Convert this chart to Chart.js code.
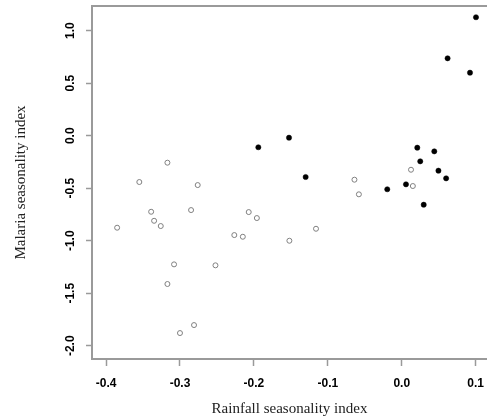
<!DOCTYPE html>
<html>
<head>
<meta charset="utf-8">
<script src="https://cdn.jsdelivr.net/npm/chart.js@4"></script>
<style>
  body { margin: 0; background: #fff; }
</style>
</head>
<body>
<canvas id="seasonChart" width="487" height="420"></canvas>
<script>
// open circles
const openX = [-0.317, -0.355, -0.276, -0.339, -0.285, -0.335, -0.326, -0.385, -0.308, -0.317, -0.281, -0.300,
    -0.207, -0.196, -0.116, -0.2265, -0.215, -0.152, -0.252, 0.0125, -0.064, 0.015, -0.058];
const openY = [-0.257, -0.441, -0.470, -0.724, -0.708, -0.810, -0.860, -0.876, -1.225, -1.412, -1.803, -1.879,
    -0.727, -0.784, -0.886, -0.946, -0.962, -1.000, -1.234, -0.324, -0.419, -0.479, -0.558];

// filled dots
const filledX = [-0.194, -0.1525, -0.130, 0.021, 0.044, 0.025, 0.0496, 0.060, 0.0057, -0.0196, 0.0297, 0.1004, 0.062, 0.0923];
const filledY = [-0.110, -0.019, -0.393, -0.114, -0.149, -0.244, -0.333, -0.406, -0.463, -0.510, -0.657, 1.128, 0.737, 0.600];

const xTicks = [-0.4, -0.3, -0.2, -0.1, 0.0, 0.1];
const yTicks = [-2.0, -1.5, -1.0, -0.5, 0.0, 0.5, 1.0];

const frameColor = '#9a9a9a';
const tickFont = { family: 'Liberation Sans', size: 12, weight: 'bold' };
const titleFont = { family: 'Liberation Serif', size: 15 };

const toPoints = (xs, ys) => xs.map((x, i) => ({ x: x, y: ys[i] }));

// drop the extra room chart.js keeps for overhanging labels
const noOverhang = (scale) => {
    scale.paddingLeft = 0;
    scale.paddingRight = 0;
    scale.paddingTop = 0;
    scale.paddingBottom = 0;
};

// top edge of the box (the plot is cut off on the right, so no right edge)
const topFrame = {
    id: 'topFrame',
    afterDraw(chart) {
        const { ctx, chartArea } = chart;
        ctx.save();
        ctx.strokeStyle = frameColor;
        ctx.lineWidth = 2;
        ctx.beginPath();
        ctx.moveTo(chartArea.left - 1, chartArea.top);
        ctx.lineTo(chartArea.right, chartArea.top);
        ctx.stroke();
        ctx.restore();
    },
};

const ctx = document.getElementById('seasonChart').getContext('2d');
new Chart(ctx, {
    type: 'scatter',
    data: {
        datasets: [
            {
                label: 'open',
                data: toPoints(openX, openY),
                pointRadius: 2.5,
                borderWidth: 1,
                borderColor: '#808080',
                backgroundColor: '#ffffff',
            },
            {
                label: 'filled',
                data: toPoints(filledX, filledY),
                pointRadius: 2.6,
                borderWidth: 0.5,
                borderColor: '#000000',
                backgroundColor: '#000000',
            },
        ],
    },
    options: {
        responsive: false,
        animation: false,
        layout: { autoPadding: false, padding: { top: 6, left: 0, right: 0, bottom: 0 } },
        plugins: {
            legend: { display: false },
            tooltip: { enabled: false },
        },
        scales: {
            x: {
                type: 'linear',
                min: -0.419,
                max: 0.1153,
                afterBuildTicks: (scale) => { scale.ticks = xTicks.map(v => ({ value: v })); },
                afterFit: (scale) => { scale.height = 61; noOverhang(scale); },
                grid: { drawOnChartArea: false, drawTicks: true, tickLength: 7, tickColor: frameColor, tickWidth: 1.5 },
                border: { color: frameColor, width: 2 },
                ticks: {
                    padding: 10,
                    color: '#000',
                    font: tickFont,
                    callback: (v) => v.toFixed(1),
                },
                title: {
                    display: true,
                    text: 'Rainfall seasonality index',
                    color: '#222',
                    font: titleFont,
                    padding: { top: 0, bottom: 2 },
                },
            },
            y: {
                type: 'linear',
                min: -2.126,
                max: 1.235,
                afterBuildTicks: (scale) => { scale.ticks = yTicks.map(v => ({ value: v })); },
                afterFit: (scale) => { scale.width = 92; noOverhang(scale); },
                grid: { drawOnChartArea: false, drawTicks: true, tickLength: 6, tickColor: frameColor, tickWidth: 1.5 },
                border: { color: frameColor, width: 2 },
                ticks: {
                    padding: 5,
                    minRotation: 90,
                    maxRotation: 90,
                    crossAlign: 'center',
                    color: '#000',
                    font: tickFont,
                    callback: (v) => v.toFixed(1),
                },
                title: {
                    display: true,
                    text: 'Malaria seasonality index',
                    color: '#222',
                    font: titleFont,
                    padding: { top: 12, bottom: 0 },
                },
            },
        },
    },
    plugins: [topFrame],
});
</script>
</body>
</html>
